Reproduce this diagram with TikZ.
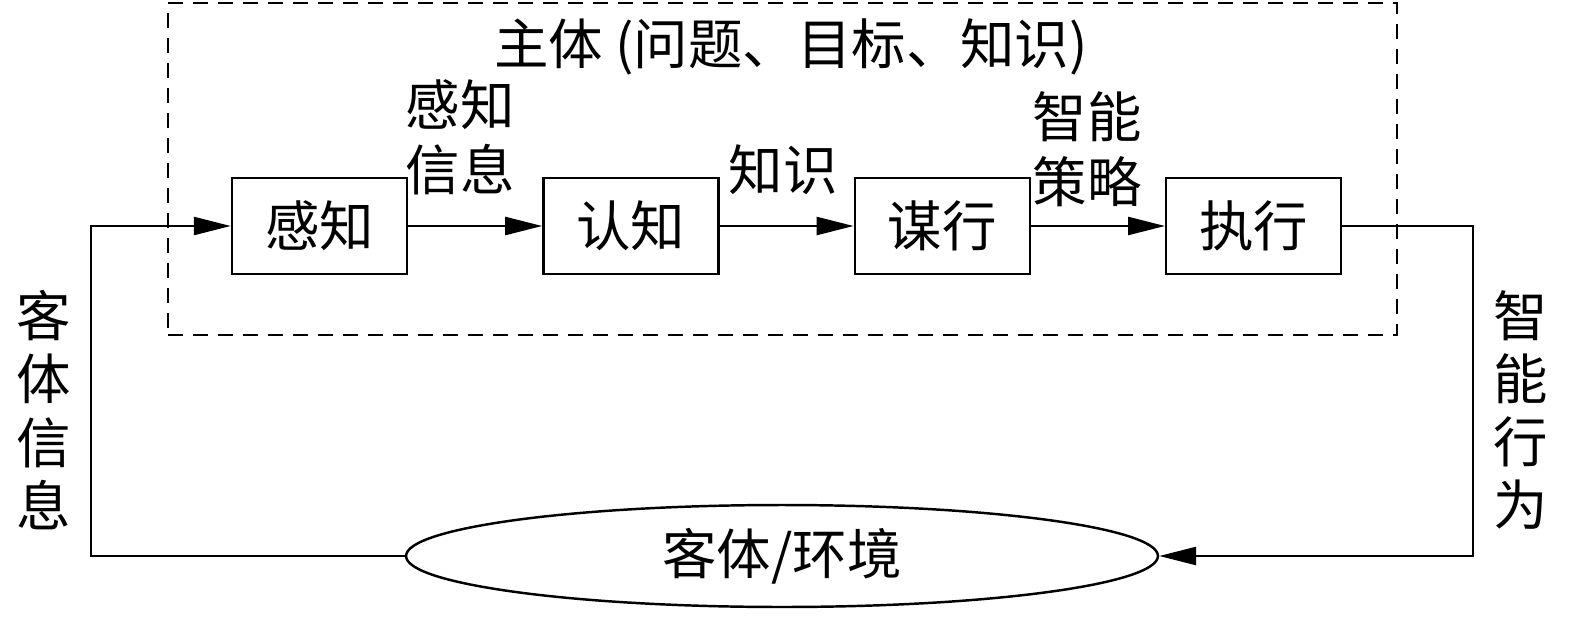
\documentclass[tikz,border=0pt]{standalone}
\usepackage{fontspec}
\setmainfont{Liberation Serif}
\newfontfamily\cjk{Noto Sans CJK SC}
\usetikzlibrary{positioning, shapes.geometric, arrows.meta}
\tikzstyle{stage} = [rectangle, minimum width=3.5cm, minimum height=1.92cm, inner sep=0pt, text centered, draw=black, line width=1.4pt]
\tikzstyle{world} = [ellipse, minimum width=15.04cm, minimum height=2.04cm, inner sep=0pt, draw=black, line width=1.4pt]
\tikzstyle{frame} = [rectangle, minimum width=24.58cm, minimum height=6.64cm, draw=black, line width=1.3pt, dash pattern=on 0.3cm off 0.2cm]
\tikzstyle{tag} = [align=center, inner sep=0pt, font=\cjk\fontsize{31}{37}\selectfont]
\tikzstyle{arrow} = [line width=1.4pt,-{Triangle[length=0.74cm,width=0.36cm]}]

\begin{document}
\begin{tikzpicture}[x=0.02cm, y=-0.02cm, node distance=2.68cm, font=\cjk\fontsize{31}{37}\selectfont]
        \useasboundingbox (0,0) rectangle (1575,632);
        \node[frame]                                      (subject) at (782.5,169) {};
        \node[tag]                                        (title)   at (791,47)    {主体 (问题、目标、知识)};

        \node[stage]                                      (sense)   at (319.5,226) {感知};
        \node[stage, right=of sense]                      (know)    {认知};
        \node[stage, right=of know]                       (plan)    {谋行};
        \node[stage, right=of plan]                       (act)     {执行};
        \node[world]                                      (env)     at (782,556)   {客体/环境};

        \node[tag]                                        (senseinfo) at (460,137) {感知\\信息};
        \node[tag]                                        (knowinfo)  at (783,170) {知识};
        \node[tag]                                        (strategy)  at (1087,149) {智能\\策略};
        \node[tag, font=\cjk\fontsize{31}{36}\selectfont] (objinfo)   at (44,410)  {客\\体\\信\\息};
        \node[tag, font=\cjk\fontsize{31}{36}\selectfont] (behavior)  at (1521,410) {智\\能\\行\\为};

        \coordinate (lc) at (91,556);
        \coordinate (rc) at (1473,226);

        \draw[arrow] (sense) -- (know);
        \draw[arrow] (know)  -- (plan);
        \draw[arrow] (plan)  -- (act);
        \draw[arrow] (env.west) -- (lc) |- (sense.west);
        \draw[arrow] (act.east) -- (rc) |- (env.east);
    \end{tikzpicture}
\end{document}
